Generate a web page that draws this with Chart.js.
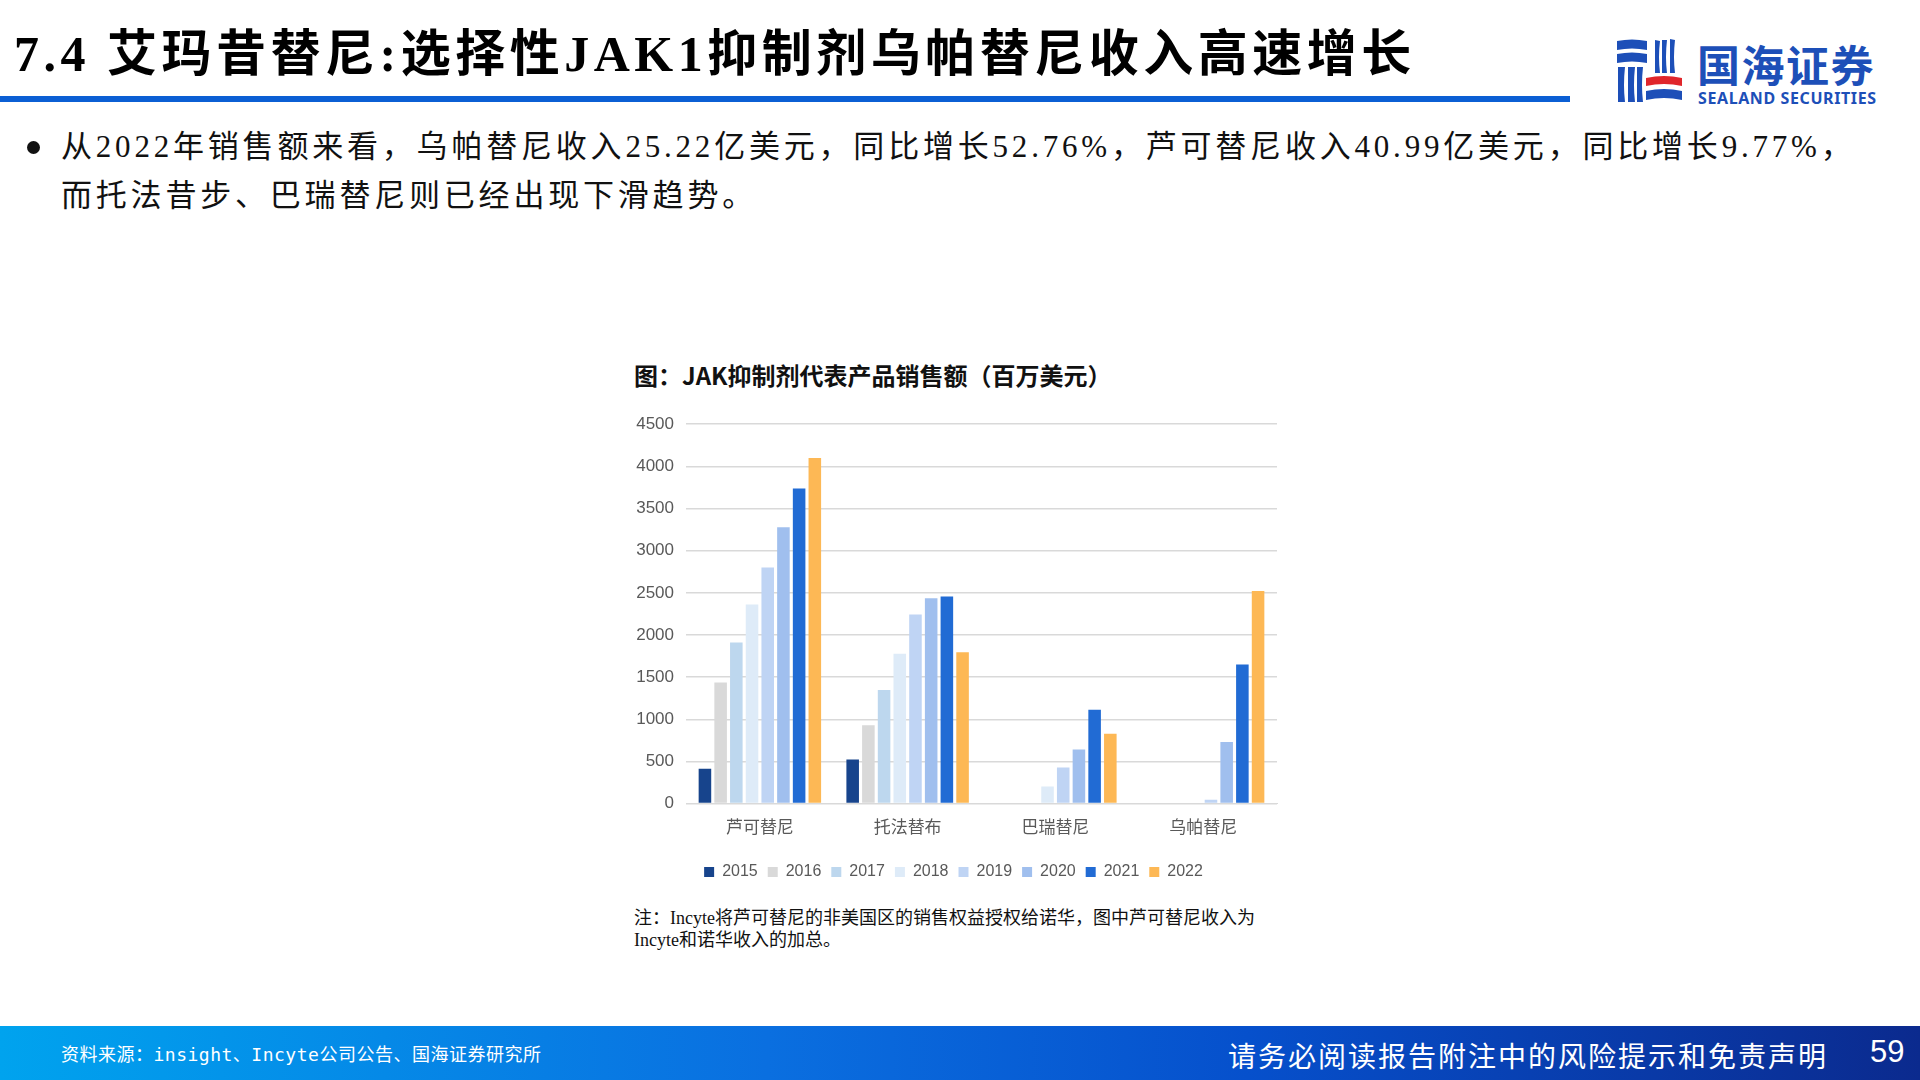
<!DOCTYPE html>
<html>
<head>
<meta charset="utf-8">
<script src="https://cdn.jsdelivr.net/npm/chart.js@4.4.1/dist/chart.umd.min.js"></script>
<style>
  html, body { margin: 0; padding: 0; }
  body { width: 1920px; height: 1080px; position: relative; overflow: hidden; background: #fff;
         font-family: "Liberation Serif", "Noto Sans CJK SC", serif; }
  .abs { position: absolute; white-space: nowrap; }
  #pageTitle { left: 14px; top: 22px; font-size: 50px; font-weight: bold; letter-spacing: 4.5px; color: #000;
               font-family: "Liberation Serif", "Noto Sans CJK SC", serif; line-height: 64px; }
  #titleLine { left: 0; top: 96px; width: 1570px; height: 6px; background: #0b5fd4; }
  .bullet { font-size: 31px; letter-spacing: 3.8px; color: #111; line-height: 40px; }
  #dot { left: 27px; top: 141px; width: 13px; height: 13px; border-radius: 50%; background: #111; }
  #chartTitle { left: 634px; top: 360px; font-size: 24px; font-weight: bold; color: #111;
                font-family: "Noto Sans CJK SC", sans-serif; line-height: 30px; }
  #chartWrap { left: 630px; top: 402px; width: 660px; height: 488px; }
  .note { left: 634px; font-size: 18px; color: #111; line-height: 22px;
          font-family: "Liberation Serif", "Noto Sans CJK SC", serif; }
  #footer { left: 0; top: 1026px; width: 1920px; height: 54px;
            background: linear-gradient(90deg, #00a3ee 0%, #0a6fe0 40%, #0650cc 65%, #0b2a8e 100%); }
  #src { left: 61px; top: 1040px; font-size: 18px; letter-spacing: 0.5px; color: #fff; font-family: "DejaVu Sans Mono", "Noto Sans CJK SC", monospace; }
  #disc { left: 1228px; top: 1035px; font-size: 28px; letter-spacing: 2px; color: #fff; font-family: "Noto Sans CJK SC", sans-serif; }
  #page { left: 1870px; top: 1034px; font-size: 31px; color: #fff; font-family: "Liberation Sans", sans-serif; }
  #logoCn { left: 1697px; top: 42px; font-size: 43px; font-weight: bold; color: #1d4fb8; letter-spacing: 1.5px;
            font-family: "Noto Sans CJK SC", sans-serif; line-height: 42px; }
  #logoEn { left: 1698px; top: 92px; font-size: 16px; font-weight: bold; color: #1d4fb8; letter-spacing: 0.6px;
            font-family: "Noto Sans", sans-serif; line-height: 12px; }
</style>
</head>
<body>
<div id="pageTitle" class="abs">7.4 艾玛昔替尼:选择性JAK1抑制剂乌帕替尼收入高速增长</div>
<div id="titleLine" class="abs"></div>

<svg class="abs" style="left:1610px;top:30px" width="80" height="80" viewBox="0 0 80 80">
  <path d="M7 11 Q22 8 37 11 L37 20 Q22 17 7 20 Z" fill="#1d4fb8"/>
  <path d="M7 24 Q22 21 37 24 L37 33 Q22 30 7 33 Z" fill="#1d4fb8"/>
  <path d="M45 10 L50 11 Q48 27 50 43 L45 43 Z" fill="#1d4fb8"/>
  <path d="M52 10 L57 10 Q55 27 57 43 L52 43 Z" fill="#1d4fb8"/>
  <path d="M60 9 L65 10 Q63 27 65 43 L60 43 Z" fill="#1d4fb8"/>
  <path d="M8 37 L15 37 Q13 55 15 72 L8 72 Z" fill="#1d4fb8"/>
  <path d="M18 37 L25 37 Q23 55 25 72 L18 72 Z" fill="#1d4fb8"/>
  <path d="M27 37 L33 37 Q31 55 33 72 L27 72 Z" fill="#1d4fb8"/>
  <path d="M36 48 Q54 44 72 48 L72 56 Q54 52 36 56 Z" fill="#e0262b"/>
  <path d="M36 61 Q54 57 72 61 L72 70 Q54 66 36 70 Z" fill="#1d4fb8"/>
</svg>
<div id="logoCn" class="abs">国海证券</div>
<div id="logoEn" class="abs">SEALAND SECURITIES</div>

<div id="dot" class="abs"></div>
<div class="abs bullet" style="left:61px;top:127px;">从2022年销售额来看，乌帕替尼收入25.22亿美元，同比增长52.76%，芦可替尼收入40.99亿美元，同比增长9.77%，</div>
<div class="abs bullet" style="left:61px;top:176px;">而托法昔步、巴瑞替尼则已经出现下滑趋势。</div>

<div id="chartTitle" class="abs">图：JAK抑制剂代表产品销售额（百万美元）</div>
<div id="chartWrap" class="abs"><canvas id="salesChart" width="660" height="488"></canvas></div>

<div class="abs note" style="top:907px;">注：Incyte将芦可替尼的非美国区的销售权益授权给诺华，图中芦可替尼收入为</div>
<div class="abs note" style="top:929px;">Incyte和诺华收入的加总。</div>

<div id="footer" class="abs"></div>
<div id="src" class="abs">资料来源：insight、Incyte公司公告、国海证券研究所</div>
<div id="disc" class="abs">请务必阅读报告附注中的风险提示和免责声明</div>
<div id="page" class="abs">59</div>

<script>
// products on the x axis
const products = ['芦可替尼', '托法替布', '巴瑞替尼', '乌帕替尼'];
const years = ['2015', '2016', '2017', '2018', '2019', '2020', '2021', '2022'];

// sales per year, in million USD, same order as products
const sales2015 = [413, 523, 0, 0];
const sales2016 = [1435, 928, 0, 0];
const sales2017 = [1910, 1348, 0, 0];
const sales2018 = [2362, 1777, 204, 0];
const sales2019 = [2799, 2244, 428, 47];
const sales2020 = [3278, 2437, 641, 731];
const sales2021 = [3738, 2457, 1112, 1651];
const sales2022 = [4099, 1796, 829, 2522];

const yearColors = ['#17448c', '#d9d9d9', '#bdd7ee', '#deebf8', '#bfd4f4', '#a0bfee', '#216bd4', '#fdb855'];
const allSales = [sales2015, sales2016, sales2017, sales2018, sales2019, sales2020, sales2021, sales2022];

const labelFont = { family: '"Liberation Sans", "Noto Sans CJK SC", sans-serif', size: 17 };

const ctx = document.getElementById('salesChart').getContext('2d');
new Chart(ctx, {
  type: 'bar',
  data: {
    labels: products,
    datasets: years.map((y, i) => ({
      label: y,
      data: allSales[i],
      backgroundColor: yearColors[i],
      categoryPercentage: 0.85,
      barPercentage: 0.8
    }))
  },
  options: {
    responsive: false,
    animation: false,
    layout: { padding: { top: 0.5, right: 13, bottom: 0, left: 0 } },
    plugins: {
      legend: {
        position: 'bottom',
        labels: { boxWidth: 10, boxHeight: 10, padding: 10, color: '#595959', font: { ...labelFont, size: 16 } }
      },
      tooltip: { enabled: false }
    },
    scales: {
      x: {
        grid: { display: false },
        border: { color: '#d9d9d9', width: 1 },
        ticks: { color: '#595959', padding: 6.5, font: labelFont },
        // empty title only adds a little room between the labels and the legend
        title: { display: true, text: '', padding: { top: 8, bottom: 0 }, font: { size: 1, lineHeight: 1 } }
      },
      y: {
        min: 0,
        max: 4500,
        ticks: { stepSize: 500, color: '#595959', padding: 12, font: labelFont, callback: v => String(v) },
        grid: { color: '#d9d9d9', lineWidth: 1.5, drawTicks: false },
        border: { display: false },
        afterFit: scale => { scale.width = 56; }
      }
    }
  }
});
</script>
</body>
</html>
